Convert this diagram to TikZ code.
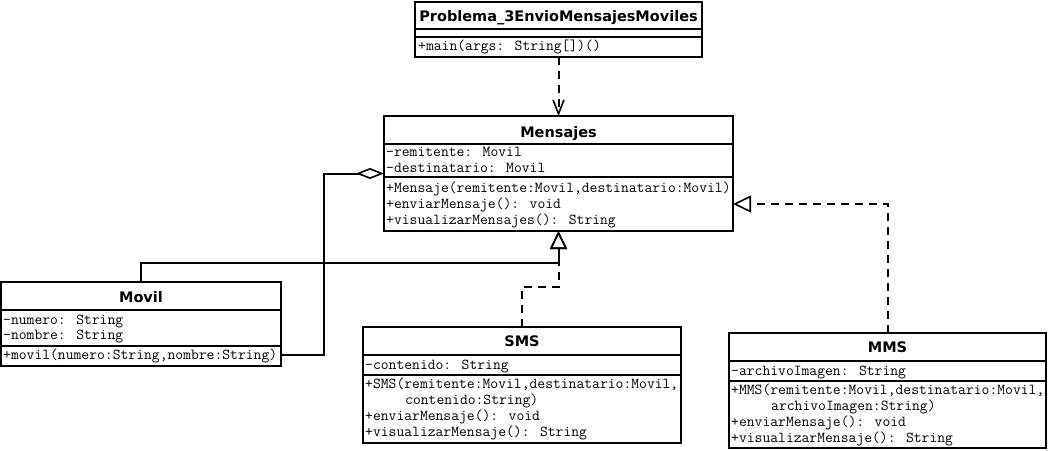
\documentclass[tikz,border=0pt]{standalone}
\usepackage{fontspec}
\newfontfamily\titlefont{DejaVu Sans}
\usetikzlibrary{arrows.meta}
\tikzset{
  classbox/.style={draw, line width=2pt, anchor=north west, inner sep=0pt, outer sep=0pt},
  sepline/.style={line width=2pt},
  classtitle/.style={font=\titlefont\bfseries\fontsize{14.5}{16}\selectfont, anchor=base, inner sep=0pt},
  member/.style={font=\ttfamily\fontsize{15.2}{16}\selectfont, anchor=base west, inner sep=0pt},
  conn/.style={line width=2pt},
  dashconn/.style={conn, dash pattern=on 8pt off 6pt},
  realiz/.style={-{Triangle[open, length=18pt, width=17pt, line width=1.6pt]}},
  aggreg/.style={{Diamond[open, length=28pt, width=11pt, line width=1.6pt]}-},
  depend/.style={-{Straight Barb[length=14pt, width=11pt, line width=1.6pt]}},
}
\begin{document}
\begin{tikzpicture}[x=1pt, y=-1pt]
\useasboundingbox[fill=white] (0,0) rectangle (1048,450);

% Problema_3EnvioMensajesMoviles
\node[classbox, minimum width=287pt, minimum height=55pt] (prob) at (415,2) {};
\draw[sepline] (prob.west |- 0,29) -- (prob.east |- 0,29);
\draw[sepline] (prob.west |- 0,37) -- (prob.east |- 0,37);
\node[classtitle] (probT) at (prob.north |- 0,21) {Problema\_3EnvioMensajesMoviles};
\node[member] (probM1) at (418,50) {+main(args: String[])()};

% Mensajes
\node[classbox, minimum width=349pt, minimum height=115pt] (mens) at (384,116) {};
\draw[sepline] (mens.west |- 0,144) -- (mens.east |- 0,144);
\draw[sepline] (mens.west |- 0,177) -- (mens.east |- 0,177);
\node[classtitle] (mensT) at (mens.north |- 0,137) {Mensajes};
\node[member] (mensA1) at (386,156) {-remitente: Movil};
\node[member] (mensA2) at (386,172) {-destinatario: Movil};
\node[member] (mensM1) at (386,192) {+Mensaje(remitente:Movil,destinatario:Movil)};
\node[member] (mensM2) at (386,208) {+enviarMensaje(): void};
\node[member] (mensM3) at (386,224) {+visualizarMensajes(): String};

% Movil
\node[classbox, minimum width=280pt, minimum height=84pt] (movil) at (1,282) {};
\draw[sepline] (movil.west |- 0,310) -- (movil.east |- 0,310);
\draw[sepline] (movil.west |- 0,346) -- (movil.east |- 0,346);
\node[classtitle] (movilT) at (movil.north |- 0,302) {Movil};
\node[member] (movilA1) at (3,324) {-numero: String};
\node[member] (movilA2) at (3,339) {-nombre: String};
\node[member] (movilM1) at (3,359) {+movil(numero:String,nombre:String)};

% SMS
\node[classbox, minimum width=318pt, minimum height=116pt] (sms) at (363,327) {};
\draw[sepline] (sms.west |- 0,355) -- (sms.east |- 0,355);
\draw[sepline] (sms.west |- 0,375) -- (sms.east |- 0,375);
\node[classtitle] (smsT) at (sms.north |- 0,346) {SMS};
\node[member] (smsA1) at (365,369) {-contenido: String};
\begin{scope}
\clip (sms.north west) rectangle (sms.south east);
\node[member] (smsM1) at (365,388) {+SMS(remitente:Movil,destinatario:Movil,};
\end{scope}
\node[member] (smsM2) at (405,404) {contenido:String)};
\node[member] (smsM3) at (365,420) {+enviarMensaje(): void};
\node[member] (smsM4) at (365,436) {+visualizarMensaje(): String};

% MMS
\node[classbox, minimum width=317pt, minimum height=115pt] (mms) at (729,333) {};
\draw[sepline] (mms.west |- 0,361) -- (mms.east |- 0,361);
\draw[sepline] (mms.west |- 0,381) -- (mms.east |- 0,381);
\node[classtitle] (mmsT) at (mms.north |- 0,352) {MMS};
\node[member] (mmsA1) at (731,375) {-archivoImagen: String};
\begin{scope}
\clip (mms.north west) rectangle (mms.south east);
\node[member] (mmsM1) at (731,394) {+MMS(remitente:Movil,destinatario:Movil,};
\end{scope}
\node[member] (mmsM2) at (771,410) {archivoImagen:String)};
\node[member] (mmsM3) at (731,426) {+enviarMensaje(): void};
\node[member] (mmsM4) at (731,442) {+visualizarMensaje(): String};

% connectors
\draw[dashconn, depend] (prob.south) -- (mens.north);
\draw[conn, aggreg] (mens.west) -- ++(-60,0) coordinate (aggc) |- ([yshift=11pt]movil.south east);
\coordinate (joinMovil) at ([yshift=-32pt]mens.south);
\coordinate (joinSMS) at ([yshift=-56pt]mens.south);
\draw[conn, realiz] (movil.north) |- (joinMovil) -- (mens.south);
\draw[dashconn, realiz] (sms.north) |- (joinSMS) -- (mens.south);
\draw[dashconn, realiz] (mms.north) |- ([yshift=-30.5pt]mens.east);
\end{tikzpicture}
\end{document}
